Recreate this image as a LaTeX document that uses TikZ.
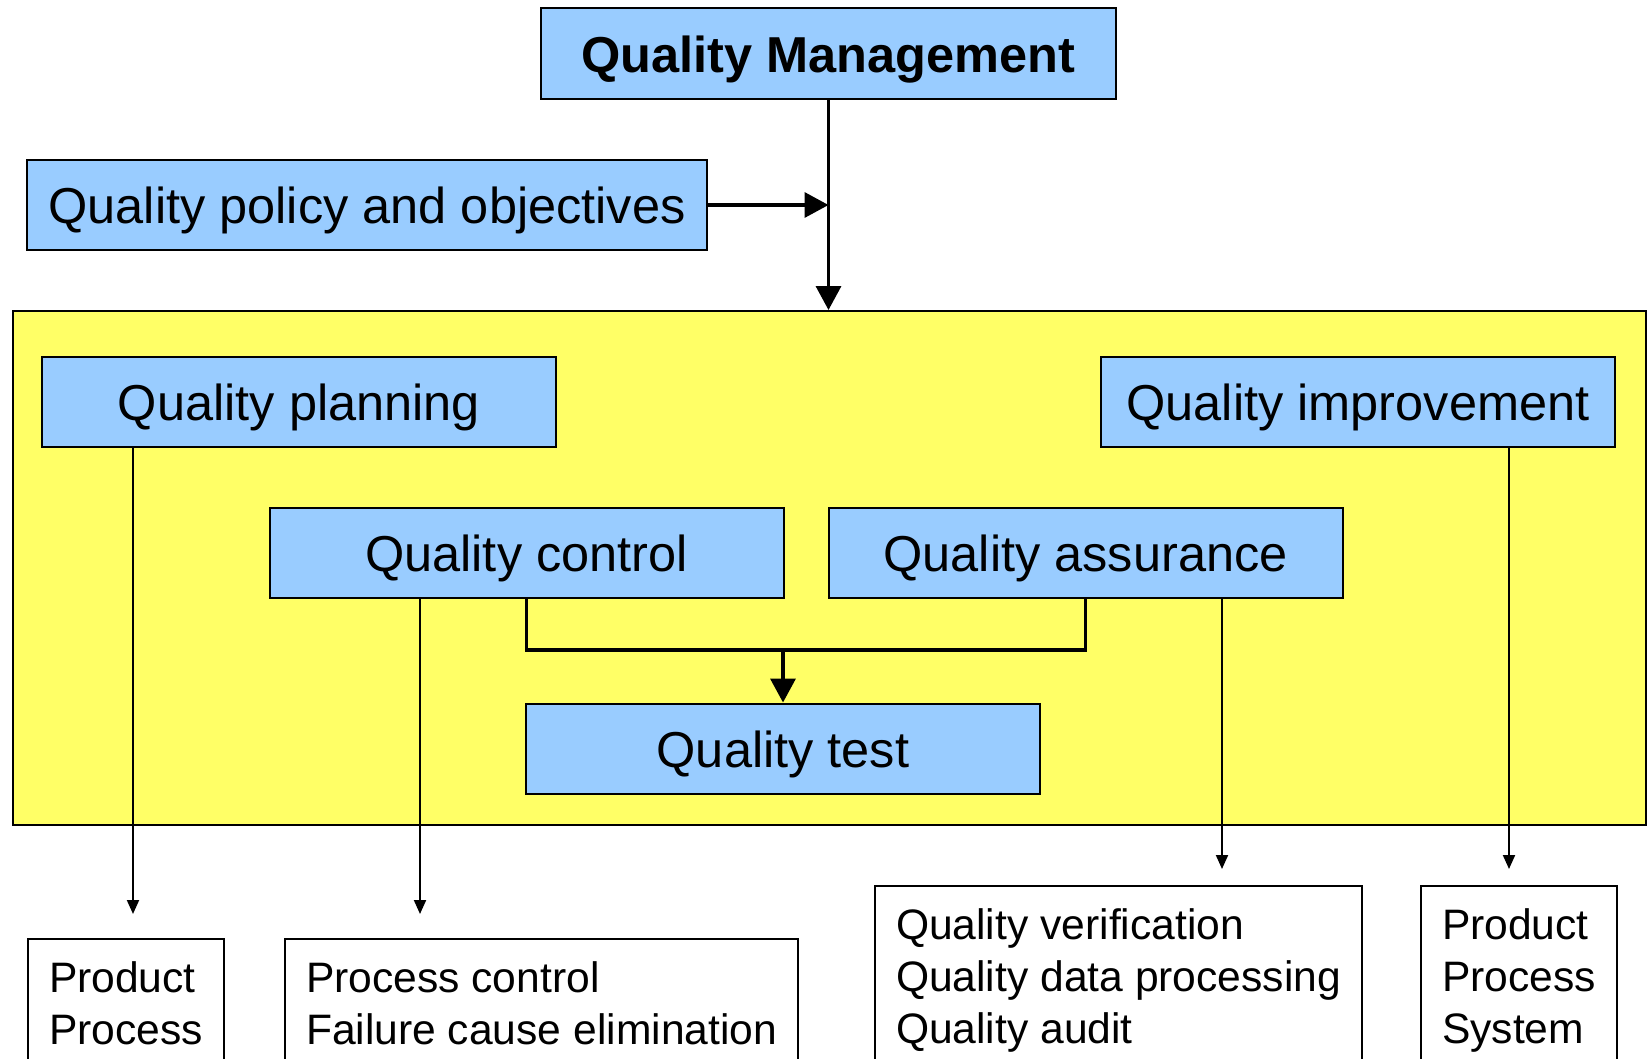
\documentclass[tikz,border=0pt]{standalone}
\usepackage{fontspec}
\setmainfont{Liberation Sans}
\usetikzlibrary{arrows.meta, positioning}
\definecolor{boxblue}{HTML}{99CCFF}
\definecolor{zoneyellow}{HTML}{FFFF66}
\tikzstyle{block} = [rectangle, draw, line width=2pt, fill=boxblue, minimum width=514pt, minimum height=90pt, inner sep=0pt, text height=38pt, text depth=0.5pt, font=\fontsize{50.5}{60}\selectfont]
\tikzstyle{zone} = [rectangle, draw, line width=2pt, fill=zoneyellow, minimum width=1633pt, minimum height=514pt]
\tikzstyle{listbox} = [rectangle, draw, line width=2pt, fill=white, anchor=north west, align=left, inner xsep=21pt, inner ysep=16.6pt, font=\fontsize{42.6}{52}\selectfont]
\tikzstyle{line} = [draw, line width=2pt, -{Triangle[length=14pt, width=12pt]}]
\tikzstyle{thickline} = [draw, line width=3.5pt]
\tikzstyle{thickarrow} = [thickline, -{Triangle[length=24pt, width=25pt]}]

\begin{document}
\begin{tikzpicture}[x=1pt, y=-1pt]
    \useasboundingbox (0,0) rectangle (1652,1058);
    \clip (0,0) rectangle (1652,1058);

    % Top
    \node [block, minimum width=575pt, minimum height=91pt, font=\fontsize{50.5}{60}\selectfont\bfseries] (qm) at (828.5,53.5) {Quality Management};
    \node [block, minimum width=680pt] (policy) at (367,205) {Quality policy and objectives};

    % Yellow area
    \node [zone] (area) at (829.5,568) {};
    \node [block] (planning) at (299,401.5) {Quality planning};
    \node [block] (improvement) at (1358,401.5) {Quality improvement};
    \node [block] (control) at (526.5,552.5) {Quality control};
    \node [block, right=43pt of control] (assurance) {Quality assurance};
    \node [block] (test) at (783,748.5) {Quality test};

    % Lists
    \node [listbox] (planlist) at (27,938) {Product\strut\\Process\strut};
    \node [listbox] (controllist) at (284,938) {Process control\strut\\Failure cause elimination\strut};
    \node [listbox] (assurelist) at (874,885) {Quality verification\strut\\Quality data processing\strut\\Quality audit\strut};
    \node [listbox] (improvelist) at (1420,885) {Product\strut\\Process\strut\\System\strut};

    % Arrow ends
    \coordinate (planend) at (133,914);
    \coordinate (controlend) at (420,914);
    \coordinate (assureend) at (1222,869);
    \coordinate (improveend) at (1509,869);
    \coordinate (join) at (783,650);

    % Lines
    \path [thickarrow] (qm.south) -- (qm.south |- area.north);
    \path [thickarrow] (policy.east) -- (policy.east -| qm.south);
    \path [thickline] (control.south) |- (join) -| (assurance.south);
    \path [thickarrow] (join) -- (test.north);
    \path [line] (planend |- planning.south) -- (planend);
    \path [line] (controlend |- control.south) -- (controlend);
    \path [line] (assureend |- assurance.south) -- (assureend);
    \path [line] (improveend |- improvement.south) -- (improveend);
\end{tikzpicture}
\end{document}
